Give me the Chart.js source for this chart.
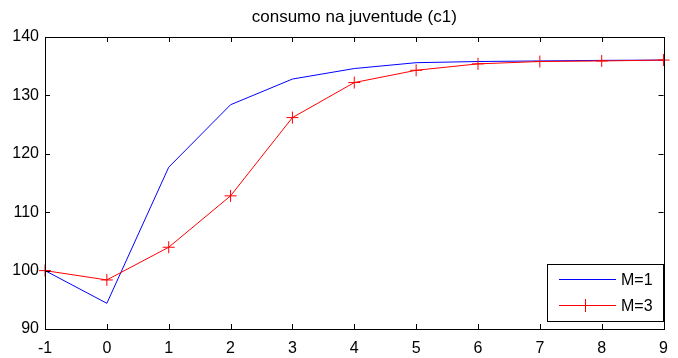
<!DOCTYPE html>
<html>
<head>
<meta charset="utf-8">
<script src="https://cdn.jsdelivr.net/npm/chart.js@4.4.0/dist/chart.umd.min.js"></script>
<style>
html,body{margin:0;padding:0;background:#fff;}
#wrap{width:678px;height:358px;}
</style>
</head>
<body>
<div id="wrap"><canvas id="c" width="678" height="358"></canvas></div>
<script>
const periods = [-1, 0, 1, 2, 3, 4, 5, 6, 7, 8, 9];
const seriesM1 = [100, 94.4, 117.7, 128.4, 132.8, 134.6, 135.6, 135.8, 135.9, 136.0, 136.05];
const seriesM3 = [100, 98.4, 104.0, 112.8, 126.2, 132.2, 134.3, 135.4, 135.8, 135.9, 136.05];
const seriesNames = ['M=1', 'M=3'];
const seriesColors = ['#0000ff', '#ff0000'];
const titleText = 'consumo na juventude (c1)';
const xTicks = [-1, 0, 1, 2, 3, 4, 5, 6, 7, 8, 9];
const yTicks = [90, 100, 110, 120, 130, 140];

const FONT = "'Liberation Sans', Arial, sans-serif";

const frame = {
  id: 'frame',
  afterDatasetsDraw(chart) {
    const ctx = chart.ctx;
    const a = chart.chartArea;
    const xs = chart.scales.x, ys = chart.scales.y;
    ctx.save();
    ctx.strokeStyle = '#000';
    ctx.lineWidth = 1;
    ctx.strokeRect(Math.round(a.left) + 0.5, Math.round(a.top) + 0.5, Math.round(a.right - a.left), Math.round(a.bottom - a.top));
    const tl = 5;
    ctx.beginPath();
    xTicks.forEach(v => {
      const px = Math.round(xs.getPixelForValue(v)) + 0.5;
      ctx.moveTo(px, a.bottom); ctx.lineTo(px, a.bottom - tl);
      ctx.moveTo(px, a.top); ctx.lineTo(px, a.top + tl);
    });
    yTicks.forEach(v => {
      const py = Math.round(ys.getPixelForValue(v)) + 0.5;
      ctx.moveTo(a.left, py); ctx.lineTo(a.left + tl, py);
      ctx.moveTo(a.right, py); ctx.lineTo(a.right - tl, py);
    });
    ctx.stroke();
    // legend box
    const bx = 547, by = 264, bw = 116, bh = 57;
    ctx.fillStyle = '#ffffff';
    ctx.fillRect(bx, by, bw, bh);
    ctx.strokeStyle = '#000000';
    ctx.strokeRect(bx + 0.5, by + 0.5, bw, bh);
    seriesNames.forEach((name, i) => {
      const ly = Math.round(by + 15 + i * 26);
      ctx.fillStyle = seriesColors[i];
      ctx.fillRect(559, ly, 57, 1);
      if (i === 1) {
        ctx.fillRect(579, ly, 13, 1);
        ctx.fillRect(585, ly - 6, 1, 13);
      }
      ctx.fillStyle = '#000000';
      ctx.font = '16px ' + FONT;
      ctx.textBaseline = 'middle';
      ctx.textAlign = 'left';
      ctx.fillText(name, 621, ly + 1.5);
    });
    ctx.restore();
  }
};

new Chart(document.getElementById('c'), {
  type: 'line',
  data: {
    datasets: [
      {
        label: seriesNames[0],
        data: periods.map((p, i) => ({x: p, y: seriesM1[i]})),
        borderColor: seriesColors[0],
        backgroundColor: seriesColors[0],
        borderWidth: 1,
        pointRadius: 0,
        tension: 0,
        fill: false,
        order: 1
      },
      {
        label: seriesNames[1],
        data: periods.map((p, i) => ({x: p, y: seriesM3[i]})),
        borderColor: seriesColors[1],
        backgroundColor: seriesColors[1],
        borderWidth: 1,
        pointStyle: 'cross',
        pointRadius: 6,
        pointBorderWidth: 1,
        pointBorderColor: seriesColors[1],
        tension: 0,
        fill: false,
        order: 0
      }
    ]
  },
  options: {
    responsive: false,
    animation: false,
    devicePixelRatio: 1,
    clip: false,
    layout: { padding: { left: 0, right: 8, top: 0, bottom: 0 } },
    plugins: {
      legend: { display: false },
      tooltip: { enabled: false },
      title: {
        display: true,
        fullSize: false,
        text: titleText,
        color: '#000',
        font: { family: FONT, size: 17, weight: 'normal' },
        padding: { top: 7, bottom: 9.6 }
      }
    },
    scales: {
      x: {
        type: 'linear',
        min: -1, max: 9,
        afterBuildTicks(s) { s.ticks = xTicks.map(v => ({value: v})); },
        afterFit(s) { s.height = 29; },
        grid: { display: false, drawTicks: false },
        border: { display: false },
        ticks: { color: '#000', font: { family: FONT, size: 16 }, padding: 10, maxRotation: 0, autoSkip: false }
      },
      y: {
        min: 90, max: 140,
        afterBuildTicks(s) { s.ticks = yTicks.map(v => ({value: v})); },
        afterFit(s) { s.width = 45; },
        grid: { display: false, drawTicks: false },
        border: { display: false },
        ticks: { color: '#000', font: { family: FONT, size: 16 }, padding: 6, autoSkip: false }
      }
    }
  },
  plugins: [frame]
});
</script>
</body>
</html>
